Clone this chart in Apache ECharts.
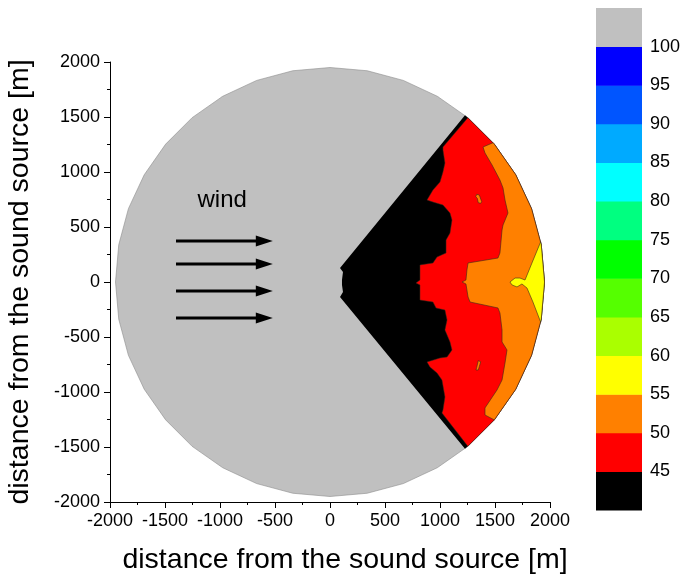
<!DOCTYPE html>
<html>
<head>
<meta charset="utf-8">
<script src="https://cdn.jsdelivr.net/npm/echarts@6/dist/echarts.min.js"></script>
<style>
  html, body { margin: 0; padding: 0; background: #ffffff; }
  #chart { width: 683px; height: 576px; }
</style>
</head>
<body>
<div id="chart"></div>
<script>
// ---- data (metres / dB) ----
const axisMin = -2000;
const axisMax = 2000;
const axisStep = 500;

// colour scale: band limits and fills, lowest band first
const levelBounds = [40, 45, 50, 55, 60, 65, 70, 75, 80, 85, 90, 95, 100, 105];
const levelColors = ['#000000', '#ff0000', '#ff8000', '#ffff00', '#aaff00', '#55ff00',
                     '#00ff00', '#00ff80', '#00ffff', '#00aaff', '#0055ff', '#0000ff', '#c0c0c0'];
const levelLabels = [45, 50, 55, 60, 65, 70, 75, 80, 85, 90, 95, 100];

// computational domain: disc around the source
const domainRadius = 1950;

// below 45 dB: wedge downwind of the source (apex points, then arc limits in degrees)
const wedgeApex = [[91, 127], [118, 91], [109, 18], [109, -27], [118, -91], [91, -136]];
const wedgeArc = [-51, 51];

// 45-50 dB: inner edge from top to bottom, then arc limits
const redEdge = [
  [1027, 1227], [1027, 1200], [1045, 1082], [1027, 1000], [1000, 909], [936, 836],
  [882, 745], [936, 727], [1027, 700], [1091, 627], [1109, 564], [1091, 445],
  [1055, 382], [1055, 264], [973, 227], [936, 173], [818, 155], [818, 18],
  [782, -9], [818, -27], [818, -164], [936, -182], [964, -236], [1045, -255],
  [1064, -345], [1045, -436], [1091, -545], [1109, -618], [1064, -682], [1000, -691],
  [882, -727], [909, -773], [973, -827], [1018, -891], [1045, -1045], [1027, -1164],
  [1018, -1191]
];
const redArc = [-50, 50];

// 50-55 dB
const orangeEdge = [
  [1391, 1227], [1409, 1173], [1473, 1064], [1545, 927], [1573, 855], [1591, 745],
  [1618, 627], [1573, 518], [1564, 473], [1545, 264], [1527, 218], [1255, 173],
  [1245, 109], [1236, 18], [1200, 0], [1236, -18], [1255, -136], [1273, -182],
  [1527, -236], [1545, -282], [1564, -436], [1564, -545], [1609, -618], [1591, -736],
  [1564, -891], [1518, -982], [1409, -1145], [1409, -1209]
];
const orangeArc = [-40, 40.5];

// small 50-55 dB pockets inside the 45-50 dB zone
const orangeIslands = [
  [[1334, 797], [1357, 791], [1379, 730], [1370, 715], [1348, 721], [1339, 761], [1325, 775]],
  [[1348, -715], [1370, -725], [1357, -770], [1348, -800], [1327, -800], [1334, -775]]
];

// 55-60 dB
const yellowEdge = [
  [1836, 173], [1773, 18], [1727, 36], [1682, 36], [1636, 0], [1655, -27],
  [1700, -45], [1745, -18], [1791, -55], [1845, -182]
];
const yellowArc = [-10.8, 10.8];

// wind direction annotation
const windArrowY = [373, 164, -82, -327];
const windArrowX = [-1400, -520];
const windLabel = { text: 'wind', x: -980, y: 740 };

// ---- geometry helpers ----
function arcPoints(a0, a1) {
  const pts = [];
  const toPt = a => [domainRadius * Math.cos(a * Math.PI / 180), domainRadius * Math.sin(a * Math.PI / 180)];
  pts.push(toPt(a0));
  for (let k = Math.ceil(a0 / 10) * 10; k < a1; k += 10) {
    if (k > a0) pts.push(toPt(k));
  }
  pts.push(toPt(a1));
  return pts;
}

const FONT = 'Liberation Sans, Arial, sans-serif';

const chart = echarts.init(document.getElementById('chart'), null, { renderer: 'canvas' });

function renderField(params, api) {
  const c = p => api.coord(p);
  const disc = arcPoints(0, 360).map(c);
  const wedge = wedgeApex.concat(arcPoints(wedgeArc[0], wedgeArc[1])).map(c);
  const red = redEdge.concat(arcPoints(redArc[0], redArc[1])).map(c);
  const orange = orangeEdge.concat(arcPoints(orangeArc[0], orangeArc[1])).map(c);
  const yellow = yellowEdge.concat(arcPoints(yellowArc[0], yellowArc[1])).map(c);
  const line = '#3a2a1a';
  const children = [
    { type: 'polygon', shape: { points: disc }, style: { fill: levelColors[12], stroke: '#8c8c8c', lineWidth: 0.6 } },
    { type: 'polygon', shape: { points: wedge }, style: { fill: levelColors[0] } },
    { type: 'polygon', shape: { points: red }, style: { fill: levelColors[1], stroke: line, lineWidth: 0.5 } },
    { type: 'polygon', shape: { points: orange }, style: { fill: levelColors[2], stroke: line, lineWidth: 0.6 } },
    { type: 'polygon', shape: { points: yellow }, style: { fill: levelColors[3], stroke: line, lineWidth: 0.6 } }
  ];
  orangeIslands.forEach(isl => {
    children.push({ type: 'polygon', shape: { points: isl.map(c) }, style: { fill: levelColors[2], stroke: line, lineWidth: 0.6 } });
  });
  return { type: 'group', children: children };
}

function renderWind(params, api) {
  const children = [];
  windArrowY.forEach(y => {
    const p0 = api.coord([windArrowX[0], y]);
    const p1 = api.coord([windArrowX[1], y]);
    const head = 17, half = 5.5;
    children.push({ type: 'line', shape: { x1: p0[0], y1: p0[1], x2: p1[0] - head + 2, y2: p1[1] },
                    style: { stroke: '#000', lineWidth: 3 } });
    children.push({ type: 'polygon', shape: { points: [[p1[0], p1[1]], [p1[0] - head, p1[1] - half], [p1[0] - head, p1[1] + half]] },
                    style: { fill: '#000' } });
  });
  const t = api.coord([windLabel.x, windLabel.y]);
  children.push({ type: 'text', x: t[0], y: t[1],
                  style: { text: windLabel.text, fill: '#000', font: '24px ' + FONT, align: 'center', verticalAlign: 'middle' } });
  return { type: 'group', children: children };
}

function renderScale(params, api) {
  const lo = api.value(0), hi = api.value(1), idx = api.value(2);
  const p0 = api.coord([0, hi]);
  const p1 = api.coord([1, lo]);
  return { type: 'rect', shape: { x: p0[0], y: p0[1], width: p1[0] - p0[0], height: p1[1] - p0[1] + 0.5 },
           style: { fill: levelColors[idx] } };
}

const scaleData = levelColors.map((col, i) => [levelBounds[i], levelBounds[i + 1], i]);

const tickLabel = {
  show: true, fontSize: 18, color: '#000', fontFamily: FONT, margin: 10,
  showMinLabel: true, showMaxLabel: true, hideOverlap: false,
  formatter: v => String(v)
};

const mainAxis = (name, extra) => Object.assign({
  type: 'value', min: axisMin, max: axisMax, interval: axisStep,
  axisLine: { show: true, onZero: false, lineStyle: { color: '#000', width: 1 } },
  axisTick: { show: true, inside: false, length: 6, lineStyle: { color: '#000', width: 1 } },
  minorTick: { show: true, splitNumber: 2, length: 3, lineStyle: { color: '#000', width: 1 } },
  splitLine: { show: false },
  minorSplitLine: { show: false },
  axisLabel: tickLabel,
  name: name, nameLocation: 'middle'
}, extra);

const option = {
  animation: false,
  backgroundColor: '#ffffff',
  grid: [
    { left: 110, top: 62, width: 440, height: 440, containLabel: false, outerBoundsMode: 'none' },
    { left: 596, top: 8, width: 46, height: 502, containLabel: false, outerBoundsMode: 'none' }
  ],
  xAxis: [
    mainAxis('distance from the sound source [m]', {
      gridIndex: 0, nameGap: 44,
      nameTextStyle: { fontSize: 28.5, color: '#000', fontFamily: FONT, padding: [0, 0, 0, 30] }
    }),
    { type: 'value', gridIndex: 1, min: 0, max: 1, show: false }
  ],
  yAxis: [
    mainAxis('distance from the sound source [m]', {
      gridIndex: 0, nameGap: 75,
      nameTextStyle: { fontSize: 28.5, color: '#000', fontFamily: FONT }
    }),
    {
      type: 'value', gridIndex: 1, position: 'right', min: levelBounds[0], max: levelBounds[levelBounds.length - 1], interval: 5,
      axisLine: { show: false }, axisTick: { show: false }, splitLine: { show: false },
      axisLabel: {
        show: true, fontSize: 18, color: '#000', fontFamily: FONT, margin: 8,
        showMinLabel: true, showMaxLabel: true, hideOverlap: false,
        formatter: v => (levelLabels.indexOf(v) >= 0 ? String(v) : '')
      }
    }
  ],
  series: [
    { type: 'custom', name: 'field', xAxisIndex: 0, yAxisIndex: 0, data: [[0, 0]], renderItem: renderField, silent: true, clip: true },
    { type: 'custom', name: 'wind', xAxisIndex: 0, yAxisIndex: 0, data: [[0, 0]], renderItem: renderWind, silent: true },
    { type: 'custom', name: 'scale', xAxisIndex: 1, yAxisIndex: 1, data: scaleData,
      encode: { x: -1, y: [0, 1] }, renderItem: renderScale, silent: true }
  ]
};

chart.setOption(option);
</script>
</body>
</html>
